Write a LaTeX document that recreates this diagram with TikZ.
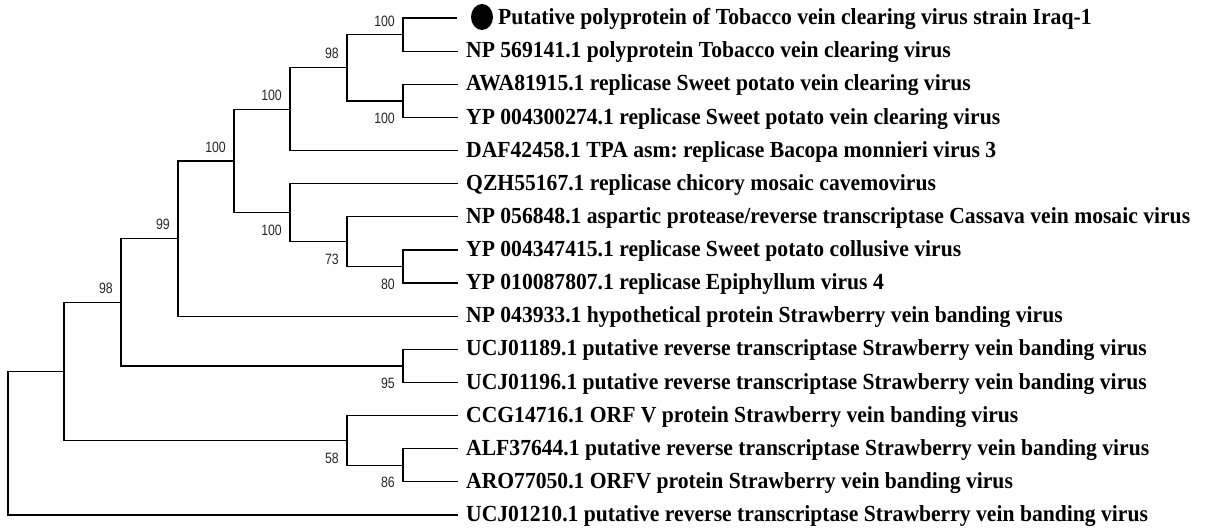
\documentclass[tikz,border=0pt]{standalone}
\usepackage{fontspec}
\setmainfont{Liberation Serif}
\newfontfamily\leaffont[FakeStretch=0.94]{Liberation Serif}
\newfontfamily\bsfont[FakeStretch=0.82]{Liberation Sans}
\usetikzlibrary{calc}
\frenchspacing
\begin{document}
\begin{tikzpicture}[x=1pt,y=-1pt,
  br/.style={draw=black, line width=1.2pt},
  leaf/.style={anchor=base west, inner sep=0pt, font=\leaffont\fontsize{23}{25}\selectfont\bfseries},
  bs/.style={anchor=east, inner sep=0pt, font=\bsfont\fontsize{15}{16}\selectfont, text=black!85}]
\useasboundingbox (0,0) rectangle (1207,531);
% leaf tips
\coordinate (t1) at (457,18);
\coordinate (t2) at (458,51.1);
\coordinate (t3) at (458,84.3);
\coordinate (t4) at (458,117.4);
\coordinate (t5) at (458,150.5);
\coordinate (t6) at (458,183.7);
\coordinate (t7) at (458,216.8);
\coordinate (t8) at (458,249.9);
\coordinate (t9) at (458,283.0);
\coordinate (t10) at (458,316.2);
\coordinate (t11) at (458,349.3);
\coordinate (t12) at (458,382.4);
\coordinate (t13) at (458,415.6);
\coordinate (t14) at (458,448.7);
\coordinate (t15) at (458,481.8);
\coordinate (t16) at (458,515.0);
% internal nodes
\coordinate (G) at (403,34.6);
\coordinate (H) at (403,100.9);
\coordinate (F) at (347,67.7);
\coordinate (E) at (290,109.1);
\coordinate (K) at (403,266.5);
\coordinate (J) at (347,241.6);
\coordinate (I) at (290,212.7);
\coordinate (D) at (234,160.9);
\coordinate (C) at (178,238.5);
\coordinate (L) at (403,365.9);
\coordinate (B) at (121,302.2);
\coordinate (N) at (403,465.3);
\coordinate (M) at (347,440.4);
\coordinate (A) at (64,371.3);
\coordinate (R) at (8,443.1);
% branches
\draw[br] (G) |- (t1); \draw[br] (G) |- (t2);
\draw[br] (H) |- (t3); \draw[br] (H) |- (t4);
\draw[br] (F) |- (G); \draw[br] (F) |- (H);
\draw[br] (E) |- (F); \draw[br] (E) |- (t5);
\draw[br] (K) |- (t8); \draw[br] (K) |- (t9);
\draw[br] (J) |- (t7); \draw[br] (J) |- (K);
\draw[br] (I) |- (t6); \draw[br] (I) |- (J);
\draw[br] (D) |- (E); \draw[br] (D) |- (I);
\draw[br] (C) |- (D); \draw[br] (C) |- (t10);
\draw[br] (L) |- (t11); \draw[br] (L) |- (t12);
\draw[br] (B) |- (C); \draw[br] (B) |- (L);
\draw[br] (N) |- (t14); \draw[br] (N) |- (t15);
\draw[br] (M) |- (t13); \draw[br] (M) |- (N);
\draw[br] (A) |- (B); \draw[br] (A) |- (M);
\draw[br] (R) |- (A); \draw[br] (R) |- (t16);
% bootstrap values
\node[bs] (bG) at ($(G)+(-8,-13.5)$) {100};
\node[bs] (bH) at ($(H)+(-8,17.5)$) {100};
\node[bs] (bF) at ($(F)+(-8,-14)$) {98};
\node[bs] (bE) at ($(E)+(-8,-14)$) {100};
\node[bs] (bD) at ($(D)+(-8,-14)$) {100};
\node[bs] (bI) at ($(I)+(-8,17.5)$) {100};
\node[bs] (bJ) at ($(J)+(-8,17.5)$) {73};
\node[bs] (bK) at ($(K)+(-8,17.5)$) {80};
\node[bs] (bC) at ($(C)+(-8,-14)$) {99};
\node[bs] (bB) at ($(B)+(-8,-14)$) {98};
\node[bs] (bL) at ($(L)+(-8,17.5)$) {95};
\node[bs] (bM) at ($(M)+(-8,17.5)$) {58};
\node[bs] (bN) at ($(N)+(-8,17.5)$) {86};
% marker
\fill[black] (482,17) ellipse [x radius=11, y radius=13];
% leaf labels
\node[leaf] (l1) at (498,24.6) {Putative polyprotein of Tobacco vein clearing virus strain Iraq-1};
\node[leaf] (l2) at (466,57.7) {NP 569141.1 polyprotein Tobacco vein clearing virus};
\node[leaf] (l3) at (466,90.9) {AWA81915.1 replicase Sweet potato vein clearing virus};
\node[leaf] (l4) at (466,124.0) {YP 004300274.1 replicase Sweet potato vein clearing virus};
\node[leaf] (l5) at (466,157.1) {DAF42458.1 TPA asm: replicase Bacopa monnieri virus 3};
\node[leaf] (l6) at (466,190.3) {QZH55167.1 replicase chicory mosaic cavemovirus};
\node[leaf] (l7) at (466,223.4) {NP 056848.1 aspartic protease/reverse transcriptase Cassava vein mosaic virus};
\node[leaf] (l8) at (466,256.5) {YP 004347415.1 replicase Sweet potato collusive virus};
\node[leaf] (l9) at (466,289.6) {YP 010087807.1 replicase Epiphyllum virus 4};
\node[leaf] (l10) at (466,322.8) {NP 043933.1 hypothetical protein Strawberry vein banding virus};
\node[leaf] (l11) at (466,355.9) {UCJ01189.1 putative reverse transcriptase Strawberry vein banding virus};
\node[leaf] (l12) at (466,389.0) {UCJ01196.1 putative reverse transcriptase Strawberry vein banding virus};
\node[leaf] (l13) at (466,422.2) {CCG14716.1 ORF V protein Strawberry vein banding virus};
\node[leaf] (l14) at (466,455.3) {ALF37644.1 putative reverse transcriptase Strawberry vein banding virus};
\node[leaf] (l15) at (466,488.4) {ARO77050.1 ORFV protein Strawberry vein banding virus};
\node[leaf] (l16) at (466,521.6) {UCJ01210.1 putative reverse transcriptase Strawberry vein banding virus};
\end{tikzpicture}
\end{document}
